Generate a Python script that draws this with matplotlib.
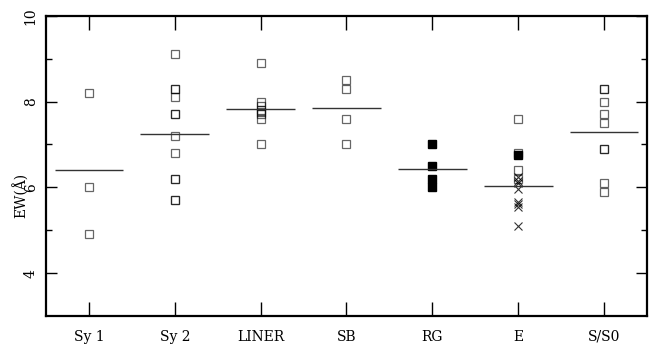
import numpy as np
import matplotlib
matplotlib.use('Agg')
import matplotlib.pyplot as plt

# 类别与数据
labels = ['Sy 1', 'Sy 2', 'LINER', 'SB', 'RG', 'E', 'S/S0']

sy1 = [8.2, 6.0, 4.9]
sy2 = [9.1, 8.3, 8.3, 8.1, 7.7, 7.7, 7.2, 6.8, 6.2, 6.2, 5.7, 5.7]
liner = [8.9, 8.0, 7.9, 7.8, 7.75, 7.7, 7.6, 7.0]
sb = [8.5, 8.3, 7.6, 7.0]
rg_filled = [7.0, 6.5, 6.2, 6.0]
e_open = [7.6, 6.8, 6.4, 6.2]
e_filled = [6.75]
e_cross = [6.25, 6.15, 6.1, 5.95, 5.65, 5.6, 5.55, 5.1]
sso = [8.3, 8.3, 8.0, 7.7, 7.5, 6.9, 6.9, 6.1, 5.9]

means = [6.41, 7.24, 7.82, 7.85, 6.42, 6.02, 7.29]

plt.rcParams['font.family'] = ['DejaVu Serif']
plt.rcParams['font.size'] = 10

fig = plt.figure(figsize=(6.56, 3.46), dpi=100)
ax = fig.add_axes([0.0701, 0.0867, 0.9162, 0.8679])

def open_sq(i, vals):
    ax.plot([i] * len(vals), vals, 's', ms=5.5, mfc='none', mec='k',
            mew=0.9, alpha=0.6, ls='none')

open_sq(0, sy1)
open_sq(1, sy2)
open_sq(2, liner)
open_sq(3, sb)
ax.plot([4] * len(rg_filled), rg_filled, 's', ms=5.5, mfc='k', mec='k', ls='none')
open_sq(5, e_open)
ax.plot([5] * len(e_filled), e_filled, 's', ms=5.5, mfc='k', mec='k', ls='none')
ax.plot([5] * len(e_cross), e_cross, 'x', ms=5.5, mew=0.8, c='k', alpha=0.8, ls='none')
open_sq(6, sso)

# 均值线
x = np.arange(len(labels))
ax.hlines(means, x - 0.4, x + 0.4, colors='#333333', lw=1)

ax.set_xlim(-0.5, 6.5)
ax.set_ylim(3, 10)
ax.set_xticks(x)
ax.set_xticklabels(labels)
ax.set_yticks([4, 6, 8, 10])
ax.set_yticks([5, 7, 9], minor=True)
ax.set_yticklabels(['4', '6', '8', '10'], rotation=90, va='center')

ax.tick_params(axis='x', direction='in', length=10, width=1, top=True, pad=10)
ax.tick_params(axis='y', which='major', direction='in', length=8, width=1,
               right=True, pad=6)
ax.tick_params(axis='y', which='minor', direction='in', length=4, width=1,
               right=True)
for s in ax.spines.values():
    s.set_linewidth(1.6)

ax.set_ylabel('EW(Å)')
ax.yaxis.set_label_coords(-0.028, 0.40)

plt.savefig('out.png', dpi=100)
